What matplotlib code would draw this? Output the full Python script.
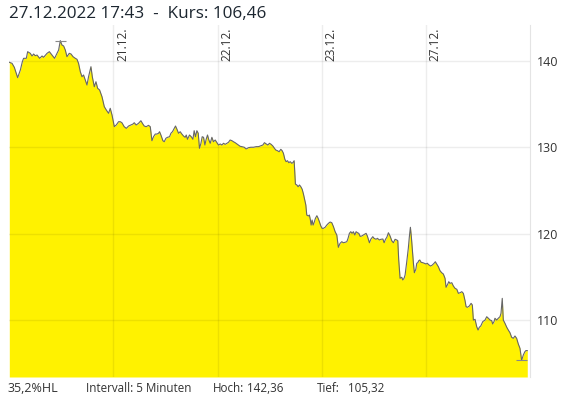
import numpy as np
import matplotlib
matplotlib.use('Agg')
import matplotlib.pyplot as plt

plt.rcParams['font.family'] = ['Open Sans', 'DejaVu Sans']

# time in trading days since 20.12. (one grid column = one day), price in EUR
t = [0.003, 0.029, 0.051, 0.083, 0.109, 0.128, 0.140, 0.166, 0.179, 0.204,
     0.221, 0.236, 0.252, 0.269, 0.294, 0.317, 0.332, 0.365, 0.387, 0.412,
     0.437, 0.460, 0.476, 0.492, 0.508, 0.524, 0.540, 0.556, 0.578, 0.595,
     0.614, 0.636, 0.652, 0.667, 0.684, 0.700, 0.715, 0.732, 0.748, 0.763,
     0.786, 0.799, 0.818, 0.834, 0.850, 0.869, 0.892, 0.914, 0.933, 0.955,
     0.971, 0.988, 1.010, 1.029, 1.051, 1.067, 1.083, 1.105, 1.125, 1.147,
     1.170, 1.189, 1.201, 1.220, 1.242, 1.265, 1.284, 1.297, 1.316, 1.338,
     1.355, 1.371, 1.386, 1.403, 1.419, 1.434, 1.444, 1.457, 1.476, 1.489,
     1.505, 1.520, 1.540, 1.553, 1.568, 1.585, 1.597, 1.611, 1.626, 1.642,
     1.658, 1.674, 1.690, 1.700, 1.712, 1.731, 1.748, 1.764, 1.776, 1.789,
     1.802, 1.815, 1.827, 1.841, 1.853, 1.866, 1.879, 1.891, 1.904, 1.917,
     1.930, 1.946, 1.961, 1.978, 1.994, 2.009, 2.026, 2.042, 2.057, 2.074,
     2.090, 2.105, 2.121, 2.138, 2.153, 2.169, 2.186, 2.201, 2.217, 2.234,
     2.256, 2.275, 2.297, 2.320, 2.345, 2.371, 2.393, 2.416, 2.435, 2.450,
     2.467, 2.483, 2.498, 2.514, 2.531, 2.546, 2.559, 2.575, 2.591, 2.607,
     2.620, 2.632, 2.646, 2.658, 2.671, 2.684, 2.697, 2.713, 2.722, 2.735,
     2.742, 2.747, 2.761, 2.773, 2.786, 2.799, 2.812, 2.824, 2.837, 2.847,
     2.856, 2.872, 2.881, 2.891, 2.898, 2.907, 2.917, 2.926, 2.939, 2.953,
     2.965, 2.977, 2.991, 3.003, 3.016, 3.032, 3.048, 3.064, 3.080, 3.096,
     3.112, 3.128, 3.144, 3.159, 3.175, 3.192, 3.207, 3.223, 3.240, 3.252,
     3.265, 3.278, 3.291, 3.303, 3.317, 3.329, 3.342, 3.355, 3.368, 3.384,
     3.399, 3.415, 3.425, 3.437, 3.457, 3.470, 3.489, 3.502, 3.521, 3.533,
     3.553, 3.567, 3.586, 3.598, 3.611, 3.624, 3.639, 3.655, 3.671, 3.687,
     3.703, 3.719, 3.729, 3.738, 3.751, 3.767, 3.777, 3.789, 3.799, 3.815,
     3.830, 3.840, 3.850, 3.859, 3.869, 3.879, 3.888, 3.902, 3.911, 3.921,
     3.930, 3.940, 3.953, 3.969, 3.984, 4.000, 4.012, 4.029, 4.045, 4.060,
     4.077, 4.089, 4.102, 4.118, 4.134, 4.150, 4.166, 4.182, 4.192, 4.204,
     4.218, 4.230, 4.247, 4.262, 4.278, 4.295, 4.310, 4.326, 4.343, 4.358,
     4.374, 4.384, 4.396, 4.415, 4.432, 4.444, 4.454, 4.470, 4.486, 4.499,
     4.511, 4.525, 4.544, 4.566, 4.582, 4.598, 4.614, 4.630, 4.639, 4.652,
     4.661, 4.678, 4.693, 4.709, 4.719, 4.731, 4.741, 4.757, 4.774, 4.789,
     4.805, 4.821, 4.837, 4.853, 4.869, 4.885, 4.901, 4.917, 4.933, 4.948,
     4.958, 4.971]

kurs = [139.85, 139.73, 139.27, 138.07, 138.96, 139.92, 140.31, 140.31, 141.08, 140.89,
        140.58, 140.81, 140.61, 140.69, 140.31, 140.58, 140.43, 140.89, 141.08, 140.69,
        140.31, 140.89, 141.27, 142.36, 141.85, 141.74, 141.27, 140.50, 140.89, 140.81,
        140.50, 140.31, 140.20, 139.73, 138.76, 138.18, 138.38, 137.80, 137.22, 138.18,
        139.34, 138.18, 137.02, 137.60, 136.84, 136.64, 135.86, 134.71, 134.33, 133.94,
        134.52, 133.75, 132.40, 132.59, 132.97, 132.97, 132.85, 132.39, 132.20, 132.47,
        132.59, 132.70, 132.85, 132.59, 132.78, 133.08, 132.70, 132.47, 132.39, 132.55,
        132.39, 130.77, 131.23, 131.54, 131.54, 131.63, 131.81, 131.43, 130.77, 130.65,
        131.05, 131.16, 131.23, 131.63, 131.81, 132.20, 132.47, 132.09, 131.63, 131.81,
        131.54, 131.31, 131.16, 131.43, 130.93, 131.43, 131.23, 130.93, 131.93, 131.23,
        131.93, 131.63, 129.89, 130.47, 131.23, 131.16, 130.27, 130.93, 131.43, 130.85,
        130.47, 131.16, 130.65, 130.85, 130.54, 130.27, 130.39, 130.27, 130.47, 130.35,
        130.47, 130.58, 130.85, 130.77, 130.65, 130.54, 130.39, 130.27, 130.12, 130.08,
        130.01, 129.81, 129.96, 130.01, 130.01, 130.08, 130.08, 130.19, 130.27, 130.54,
        130.39, 130.27, 130.47, 130.35, 130.15, 129.89, 129.69, 129.61, 129.49, 129.77,
        129.61, 129.31, 128.61, 128.34, 128.45, 128.22, 128.34, 128.15, 128.22, 128.45,
        127.00, 125.75, 125.64, 125.44, 125.64, 125.44, 125.14, 124.60, 123.90, 123.32,
        122.16, 122.05, 122.16, 121.58, 121.00, 121.58, 121.00, 121.27, 121.78, 122.08,
        121.78, 121.39, 120.89, 120.62, 120.62, 120.74, 121.00, 121.20, 121.35, 121.27,
        120.81, 120.23, 119.85, 118.42, 118.88, 119.07, 118.95, 119.00, 119.07, 119.46,
        120.04, 120.23, 120.04, 120.23, 119.85, 120.23, 120.11, 120.04, 119.69, 119.73,
        119.85, 119.96, 120.04, 119.73, 118.95, 119.35, 119.65, 119.46, 119.35, 119.46,
        119.27, 119.35, 119.38, 118.95, 119.35, 119.58, 120.11, 119.73, 119.19, 118.95,
        119.35, 119.27, 119.19, 116.95, 114.83, 114.95, 114.64, 114.83, 115.21, 116.75,
        118.31, 119.65, 120.74, 119.65, 118.11, 116.57, 115.48, 115.87, 116.57, 116.64,
        116.87, 116.95, 116.68, 116.64, 116.57, 116.49, 116.57, 116.37, 116.25, 116.37,
        116.57, 116.75, 116.49, 116.18, 115.71, 115.48, 115.33, 114.83, 113.79, 114.05,
        114.44, 114.25, 114.32, 113.94, 113.67, 113.56, 113.09, 113.16, 113.28, 113.09,
        112.24, 111.55, 111.47, 111.62, 111.93, 111.74, 110.00, 110.08, 109.23, 108.84,
        109.16, 109.31, 109.81, 110.00, 110.38, 110.20, 110.00, 109.92, 109.54, 109.81,
        110.20, 110.00, 110.20, 110.38, 110.78, 112.51, 110.00, 109.62, 109.16, 108.84,
        108.53, 108.00, 107.88, 108.15, 107.88, 107.22, 106.72, 105.32, 105.95, 106.33,
        106.46, 106.46]

day_pos = [1, 2, 3, 4]
day_labels = ['21.12.', '22.12.', '23.12.', '27.12.']
y_ticks = [110, 120, 130, 140]

title = '27.12.2022 17:43  -  Kurs: 106,46'
info_hl = '35,2%HL'
info_int = 'Intervall: 5 Minuten'
hoch = '142,36'
tief = '105,32'

y_min, y_max = 103.4, 144.17

fig = plt.figure(figsize=(5.64, 4.03), dpi=100)
ax = fig.add_axes([9 / 564, 26 / 403, 521.3 / 564, 352 / 403])

ax.fill_between(t, kurs, y_min, color='#fff200', lw=0, zorder=1)
ax.plot(t, kurs, color='#666666', lw=0.8, zorder=3)

# high / low markers
i_hi = int(np.argmax(kurs))
i_lo = int(np.argmin(kurs))
ax.hlines(kurs[i_hi], t[i_hi] - 0.05, t[i_hi] + 0.05, color='#888888', lw=0.8, zorder=3)
ax.hlines(kurs[i_lo], t[i_lo] - 0.05, t[i_lo] + 0.05, color='#888888', lw=0.8, zorder=3)

ax.set_xlim(0, 5)
ax.set_ylim(y_min, y_max)
ax.set_xticks(day_pos)
ax.set_xticklabels([])
ax.set_yticks(y_ticks)
ax.yaxis.tick_right()
ax.tick_params(axis='both', length=0)
ax.tick_params(axis='y', pad=5, labelsize=9, labelcolor='#333333')
ax.set_axisbelow(False)
ax.grid(True, color='black', alpha=0.07, lw=1, zorder=2)

for s in ['top', 'left', 'bottom']:
    ax.spines[s].set_visible(False)
ax.spines['right'].set_color('#e4e4e4')

for p, lab in zip(day_pos, day_labels):
    ax.annotate(lab, (p, 1), xycoords=('data', 'axes fraction'),
                xytext=(2, -2), textcoords='offset points',
                rotation=90, ha='left', va='top', fontsize=8.5, color='#333333')

fig.text(9 / 564, 1 - 14 / 403, title, fontsize=12.3, color='#1c2630', va='center')

yb = 1 - 389 / 403
fs = 8.4
fig.text(7 / 564, yb, info_hl, fontsize=9, color='#333333', va='center')
fig.text(86 / 564, yb, info_int, fontsize=fs, color='#333333', va='center')
fig.text(213 / 564, yb, 'Hoch:', fontsize=fs, color='#333333', va='center')
fig.text(247 / 564, yb, hoch, fontsize=fs, color='#333333', va='center')
fig.text(317 / 564, yb, 'Tief:', fontsize=fs, color='#333333', va='center')
fig.text(348 / 564, yb, tief, fontsize=fs, color='#333333', va='center')

fig.savefig('out.png', dpi=100)
